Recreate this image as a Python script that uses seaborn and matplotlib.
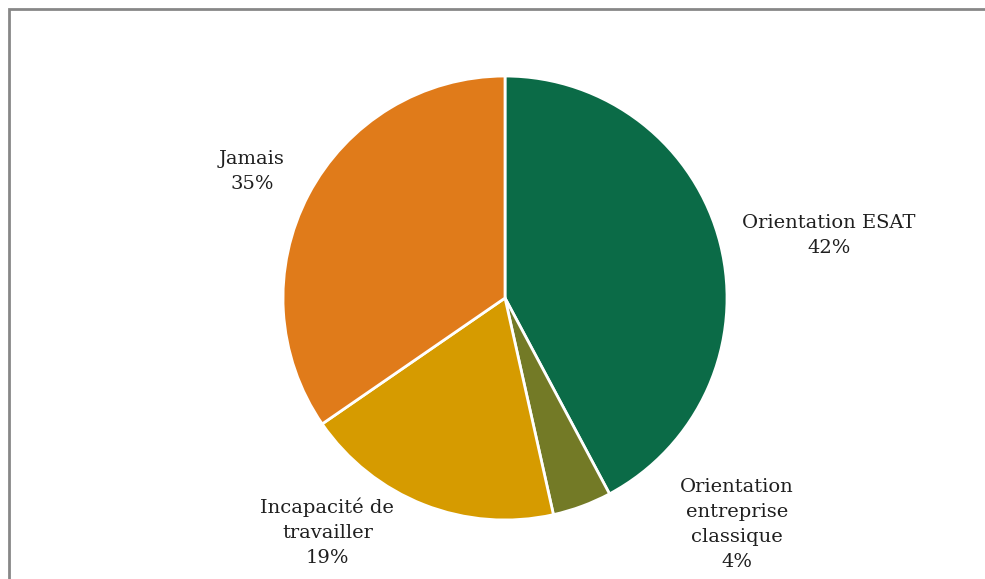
import numpy as np
import matplotlib
matplotlib.use("Agg")
import matplotlib.pyplot as plt
from matplotlib.patches import Rectangle
import seaborn as sns

# ── Données ───────────────────────────────────────────────
categories = ["Orientation ESAT", "Orientation\nentreprise\nclassique",
              "Incapacité de\ntravailler", "Jamais"]
values = [42.2, 4.3, 18.9, 34.6]   # parts (%), affichées arrondies
colors = ["#0B6B47", "#737A26", "#D69B00", "#E07B1A"]

# positions des étiquettes (en rayons, à la manière d'Excel "meilleur ajustement")
label_pos = [(1.46, 0.28), (1.045, -1.02), (-0.80, -1.055), (-1.14, 0.57)]

sns.set_theme(style="white")
plt.rcParams["font.family"] = ["DejaVu Serif"]

fig = plt.figure(figsize=(9.85, 5.79), dpi=100)
ax = fig.add_axes([0.2873, 0.1019, 0.4508, 0.7668])

wedges, _ = ax.pie(values, colors=sns.color_palette(colors), startangle=90,
                   counterclock=False, radius=1,
                   wedgeprops={"edgecolor": "white", "linewidth": 2})
ax.set_xlim(-1, 1)
ax.set_ylim(-1, 1)
ax.set_aspect("auto")
ax.axis("off")

for cat, v, (lx, ly) in zip(categories, values, label_pos):
    ax.text(lx, ly, f"{cat}\n{v:.0f}%", ha="center", va="center",
            fontsize=14, color="#1f1f1f", linespacing=1.5, clip_on=False)

# cadre gris (bords gauche et haut visibles)
fig.add_artist(Rectangle((8.5 / 985, -0.1), 1.2, 1 - 9.5 / 579 + 0.1,
                         transform=fig.transFigure, fill=False,
                         edgecolor="#878787", linewidth=2))

fig.savefig("out.png", dpi=100)
plt.close(fig)
